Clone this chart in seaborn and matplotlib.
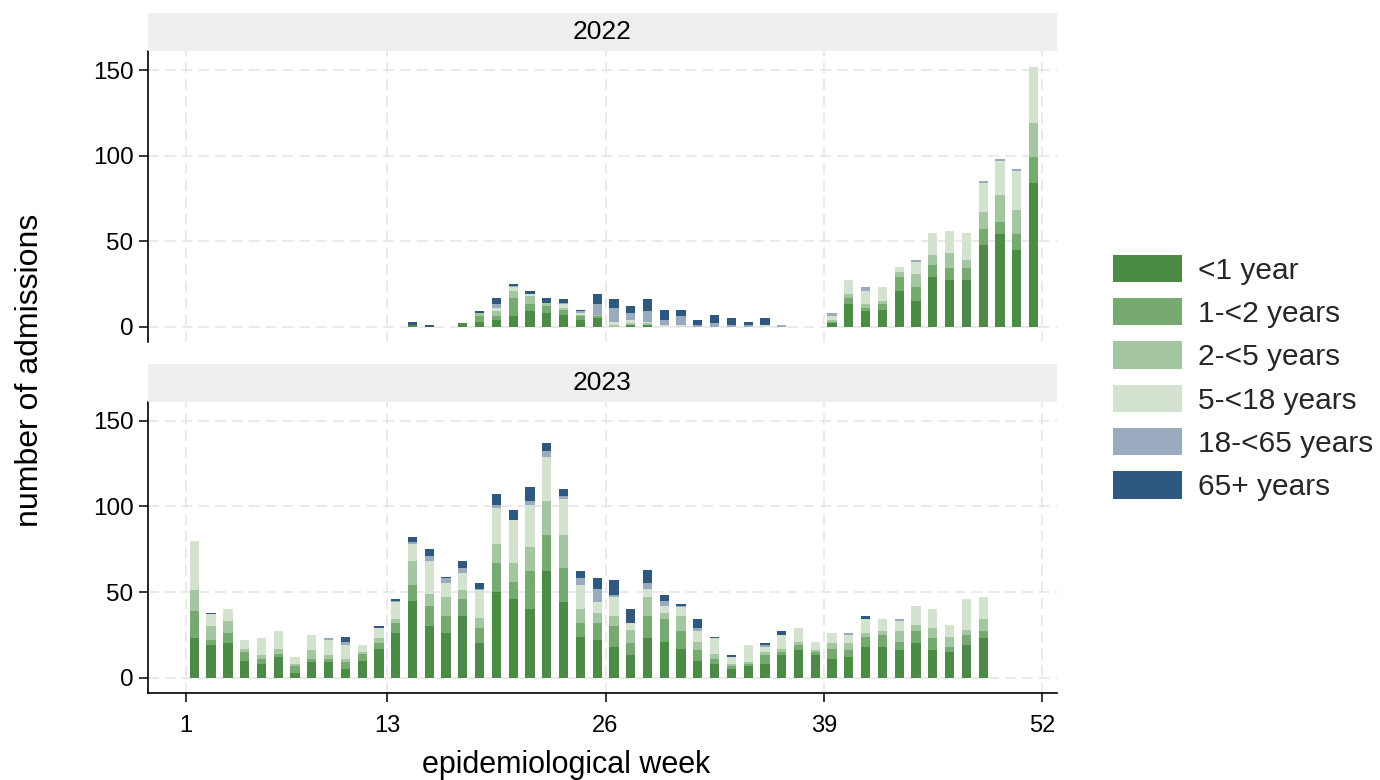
import numpy as np
import pandas as pd
import matplotlib
matplotlib.use("Agg")
import matplotlib.pyplot as plt
from matplotlib.patches import Patch
import seaborn as sns

# ---------------- data ----------------
age_groups = ["<1 year", "1-<2 years", "2-<5 years", "5-<18 years", "18-<65 years", "65+ years"]
colors = ["#4b8b45", "#76aa71", "#a4c6a0", "#d3e3d0", "#9aabbf", "#2f5880"]

weeks_2022 = [14, 15, 17, 18, 19, 20, 21, 22, 23, 24, 25, 26, 27, 28, 29, 30, 31, 32, 33, 34, 35, 36,
              39, 40, 41, 42, 43, 44, 45, 46, 47, 48, 49, 50, 51]
lt1_2022   = [1, 0, 2, 3, 4, 6, 9, 8, 7, 4, 5, 0, 1, 1, 0, 0, 0, 0, 0, 0, 0, 0,
              2, 13, 9, 10, 21, 15, 29, 27, 27, 48, 54, 45, 84]
y1_2_2022  = [0, 0, 0, 3, 2, 11, 4, 4, 3, 2, 1, 0, 0, 0, 0, 0, 0, 0, 0, 0, 0, 0,
              1, 4, 2, 3, 8, 8, 7, 7, 7, 9, 7, 9, 15]
y2_5_2022  = [0, 0, 0, 2, 3, 4, 5, 2, 1, 1, 1, 1, 1, 1, 0, 0, 0, 0, 0, 0, 0, 0,
              1, 2, 2, 2, 3, 8, 6, 9, 5, 10, 16, 14, 20]
y5_18_2022 = [0, 0, 0, 0, 2, 2, 1, 0, 2, 1, 0, 2, 2, 1, 1, 1, 0, 0, 0, 0, 1, 0,
              2, 8, 8, 8, 3, 7, 13, 13, 16, 17, 20, 23, 33]
y18_65_2022 = [0, 0, 0, 0, 2, 1, 0, 0, 1, 1, 6, 8, 4, 6, 3, 5, 1, 2, 1, 1, 0, 1,
               2, 0, 2, 0, 0, 1, 0, 0, 0, 1, 1, 1, 0]
y65p_2022  = [2, 1, 0, 1, 4, 1, 2, 3, 2, 1, 6, 5, 4, 7, 6, 4, 3, 5, 4, 2, 4, 0,
              0, 0, 0, 0, 0, 0, 0, 0, 0, 0, 0, 0, 0]

weeks_2023 = list(range(1, 49))
lt1_2023   = [23, 19, 20, 10, 8, 12, 3, 9, 9, 5, 10, 17, 26, 45, 30, 26, 36, 20, 50, 46, 40, 62, 44, 24,
              22, 18, 13, 23, 21, 17, 10, 8, 5, 7, 8, 13, 16, 13, 11, 12, 18, 18, 16, 20, 16, 15, 19, 23]
y1_2_2023  = [16, 3, 6, 5, 3, 2, 4, 2, 2, 4, 4, 3, 6, 9, 12, 10, 10, 9, 17, 10, 22, 21, 20, 8,
              10, 12, 7, 13, 13, 10, 6, 3, 2, 1, 5, 2, 3, 2, 6, 4, 6, 7, 5, 7, 7, 3, 6, 4]
y2_5_2023  = [12, 8, 7, 2, 2, 3, 1, 5, 2, 2, 1, 3, 2, 14, 7, 11, 5, 6, 11, 11, 14, 20, 19, 8,
              6, 6, 8, 11, 4, 9, 5, 3, 1, 1, 2, 2, 2, 1, 3, 4, 2, 2, 6, 4, 6, 6, 3, 7]
y5_18_2023 = [29, 7, 7, 5, 10, 10, 4, 9, 9, 8, 4, 6, 10, 10, 19, 8, 10, 16, 21, 25, 25, 26, 21, 14,
              6, 11, 4, 5, 4, 5, 6, 9, 4, 10, 3, 8, 8, 5, 6, 5, 8, 7, 6, 11, 11, 7, 18, 13]
y18_65_2023 = [0, 0, 0, 0, 0, 0, 0, 0, 1, 2, 0, 0, 1, 1, 3, 3, 3, 1, 2, 0, 2, 3, 2, 4,
               8, 1, 0, 3, 3, 1, 2, 0, 0, 0, 1, 0, 0, 0, 0, 1, 0, 0, 1, 0, 0, 0, 0, 0]
y65p_2023  = [0, 1, 0, 0, 0, 0, 0, 0, 0, 3, 0, 1, 1, 3, 4, 1, 4, 3, 6, 6, 8, 5, 4, 4,
              6, 9, 8, 8, 3, 1, 5, 1, 1, 0, 1, 2, 0, 0, 0, 0, 2, 0, 0, 0, 0, 0, 0, 0]

years = ["2022", "2023"]
series = {
    "2022": (weeks_2022, [lt1_2022, y1_2_2022, y2_5_2022, y5_18_2022, y18_65_2022, y65p_2022]),
    "2023": (weeks_2023, [lt1_2023, y1_2_2023, y2_5_2023, y5_18_2023, y18_65_2023, y65p_2023]),
}
x_ticks = [1, 13, 26, 39, 52]
y_ticks = [0, 50, 100, 150]

# ---------------- style ----------------
sns.set_theme(style="white")
plt.rcParams["font.family"] = ["Liberation Sans", "DejaVu Sans"]

W, H = 1380, 780
fig = plt.figure(figsize=(W / 100, H / 100), dpi=100)

left_px, right_px = 148, 1057
panels = [  # (top px, bottom px, ylim)
    (50.7, 341.7, (-8.8, 161.3)),
    (401.7, 693.0, (-8.9, 161.0)),
]
strip_h = 38
bar_offset = 0.5
bar_width = 0.55
grid_kw = dict(color="#e4e4e4", linestyle=(0, (7, 4)), linewidth=1.1)

for i, (year, (top, bot, ylim)) in enumerate(zip(years, panels)):
    ax = fig.add_axes([left_px / W, 1 - bot / H, (right_px - left_px) / W, (bot - top) / H])
    wk, layers = series[year]
    pos = np.array(wk, dtype=float) + bar_offset
    cum = np.cumsum(np.array(layers, dtype=float), axis=0)
    for k in range(len(age_groups) - 1, -1, -1):
        df = pd.DataFrame({"x": pos, "y": cum[k]})
        sns.barplot(data=df, x="x", y="y", native_scale=True, color=colors[k],
                    saturation=1, width=bar_width, errorbar=None, edgecolor="none",
                    linewidth=0, ax=ax)
    ax.set_xlim(-1.26, 52.9)
    ax.set_ylim(*ylim)
    ax.set_xticks(x_ticks)
    ax.set_yticks(y_ticks)
    ax.set_xlabel("")
    ax.set_ylabel("")
    ax.set_axisbelow(True)
    ax.grid(True, **grid_kw)
    ax.set_facecolor("white")
    for s in ["top", "right"]:
        ax.spines[s].set_visible(False)
    ax.spines["left"].set_color("black")
    ax.spines["left"].set_linewidth(1.2)
    ax.tick_params(axis="y", which="both", direction="out", length=6.5, width=1.1,
                   color="black", labelsize=17.5, pad=4, left=True, labelcolor="black")
    if i == 0:
        ax.spines["bottom"].set_visible(False)
        ax.tick_params(axis="x", bottom=False, labelbottom=False)
    else:
        ax.spines["bottom"].set_color("black")
        ax.spines["bottom"].set_linewidth(1.2)
        ax.tick_params(axis="x", direction="out", length=6.5, width=1.1, color="black",
                       labelsize=17, pad=9, bottom=True, labelcolor="black")
        ax.set_xticklabels([str(t) for t in x_ticks])

    # facet strip
    sax = fig.add_axes([left_px / W, 1 - top / H, (right_px - left_px) / W, strip_h / H])
    sax.set_facecolor("#efefef")
    sax.set_xticks([])
    sax.set_yticks([])
    for s in sax.spines.values():
        s.set_visible(False)
    sax.text(0.5, 0.5, year, ha="center", va="center", fontsize=19, color="black",
             transform=sax.transAxes)

fig.text(566 / W, 1 - 765 / H, "epidemiological week", ha="center", va="center",
         fontsize=22, color="black")
fig.text(30 / W, 1 - 370 / H, "number of admissions", ha="center", va="center",
         rotation=90, fontsize=23, color="black")

handles = [Patch(facecolor=c, edgecolor="none") for c in colors]
fig.legend(handles, age_groups, loc="center left", bbox_to_anchor=(1113 / W, 1 - 378 / H),
           frameon=False, fontsize=21.5, handlelength=2.3, handleheight=1.03,
           labelspacing=0.45, handletextpad=0.55, borderpad=0, borderaxespad=0)

fig.savefig("out.png", dpi=100, facecolor="white")
